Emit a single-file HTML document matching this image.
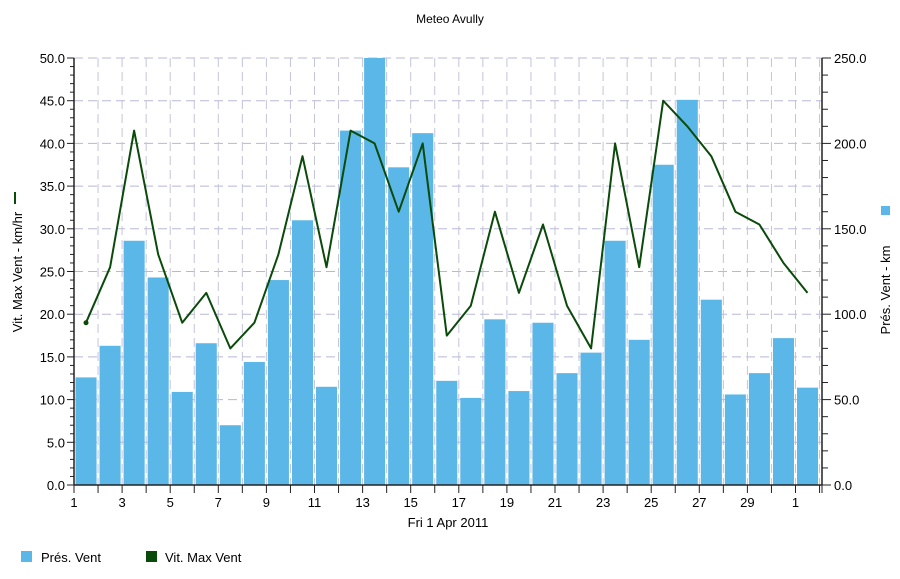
<!DOCTYPE html>
<html><head><meta charset="utf-8"><style>
body{margin:0;background:#fff;}
svg{display:block;font-family:"Liberation Sans",Arial,sans-serif;}
</style></head><body>
<svg id="chart" width="900" height="579" viewBox="0 0 900 579" xmlns="http://www.w3.org/2000/svg">
<rect width="900" height="579" fill="#fff"/>
<text x="450" y="23" text-anchor="middle" font-size="12">Meteo  Avully</text>
<g id="grid"></g>
<g id="bars"></g>
<g id="line"></g>
<g id="axes"></g>
<text transform="translate(22,272) rotate(-90)" text-anchor="middle" font-size="13">Vit. Max Vent - km/hr</text>
<rect x="14" y="192" width="2" height="12" fill="#0a4a0a"/>
<text transform="translate(890,290) rotate(-90)" text-anchor="middle" font-size="13">Prés. Vent - km</text>
<rect x="881" y="206" width="9" height="9" fill="#5bb7e8"/>
<text x="448" y="527" text-anchor="middle" font-size="13">Fri 1 Apr 2011</text>
<g>
<rect x="21" y="551" width="11" height="11" fill="#5bb7e8"/>
<text x="41" y="562" font-size="13">Prés. Vent</text>
<rect x="146" y="551" width="11" height="11" fill="#0a4a0a"/>
<text x="165" y="562" font-size="13">Vit. Max Vent</text>
</g>
</svg>
<script>
const presVent = [63,81.5,143,121.5,54.5,83,35,72,120,155,57.5,207.5,250,186,206,61,51,97,55,95,65.5,77.5,143,85,187.5,225.5,108.5,53,65.5,86,57];
const vitMax = [19,25.5,41.5,27,19,22.5,16,19,27,38.5,25.5,41.5,40,32,40,17.5,21,32,22.5,30.5,21,16,40,25.5,45,42,38.5,32,30.5,26,22.5];
const leftTicks = ["0.0","5.0","10.0","15.0","20.0","25.0","30.0","35.0","40.0","45.0","50.0"];
const rightTicks = ["0.0","50.0","100.0","150.0","200.0","250.0"];
const xLabels = ["1","3","5","7","9","11","13","15","17","19","21","23","25","27","29","1"];
const NS="http://www.w3.org/2000/svg";
const X0=74,X1=822,Y0=485,Y1=58,DAY=24.05;
const xs=i=>X0+i*DAY;
const yl=v=>Y0-(v/50)*(Y0-Y1);
const yr=v=>Y0-(v/250)*(Y0-Y1);
function mk(tag,attrs,parent){const e=document.createElementNS(NS,tag);for(const k in attrs)e.setAttribute(k,attrs[k]);parent.appendChild(e);return e;}
const grid=document.getElementById('grid'),bars=document.getElementById('bars'),line=document.getElementById('line'),axes=document.getElementById('axes');
// grid
leftTicks.forEach((t,i)=>{const y=yl(i*5);if(i>0){const g=mk('line',{x1:X0,x2:X1,y1:y,y2:y,stroke:'#b8b8d6','stroke-dasharray':'9,5'},grid);

}});
for(let i=1;i<=31;i++){const g=mk('line',{x1:xs(i),x2:xs(i),y1:Y1,y2:Y0,stroke:'#c4c4dc','stroke-dasharray':'9,5'},grid);

}
// bars
presVent.forEach((v,i)=>{const y=yr(v);const b=mk('rect',{x:xs(i)+1.5,y:y,width:DAY-3,height:Y0-y,fill:'#5bb7e8'},bars);

});
// line
const pts=vitMax.map((v,i)=>(xs(i)+DAY/2).toFixed(1)+','+yl(v).toFixed(1)).join(' ');
const pl=mk('polyline',{points:pts,fill:'none',stroke:'#0a4a0a','stroke-width':2,'stroke-linejoin':'round'},line);


const dot=mk('circle',{cx:xs(0)+DAY/2,cy:yl(vitMax[0]),r:2.5,fill:'#0a4a0a'},line);


// axes
mk('line',{x1:X0,x2:X0,y1:Y1,y2:Y0,stroke:'#222','stroke-width':1.5},axes);
mk('line',{x1:X1,x2:X1,y1:Y1,y2:Y0,stroke:'#222','stroke-width':1.5},axes);
mk('line',{x1:X0,x2:X1,y1:Y0,y2:Y0,stroke:'#222','stroke-width':1.5},axes);
for(let v=0;v<=50;v++){const y=yl(v);mk('line',{x1:X0-(v%5?4:7),x2:X0,y1:y,y2:y,stroke:'#222'},axes);}
leftTicks.forEach((t,i)=>{const tx=mk('text',{x:X0-9,y:yl(i*5)+5,'text-anchor':'end','font-size':13},axes);tx.textContent=t;

});
for(let v=0;v<=250;v+=10){const y=yr(v);mk('line',{x1:X1,x2:X1+(v%50?6:9),y1:y,y2:y,stroke:'#222'},axes);}
rightTicks.forEach((t,i)=>{const tx=mk('text',{x:X1+12,y:yr(i*50)+5,'font-size':13},axes);tx.textContent=t;

});
for(let i=0;i<=31;i++){mk('line',{x1:xs(i),x2:xs(i),y1:Y0,y2:Y0+8,stroke:'#222'},axes);}
mk('line',{x1:X1,x2:X1,y1:Y0,y2:Y0+8,stroke:'#222'},axes);
xLabels.forEach((t,k)=>{const tx=mk('text',{x:xs(k*2),y:Y0+22,'text-anchor':'middle','font-size':13},axes);tx.textContent=t;

});
</script>
</body></html>
